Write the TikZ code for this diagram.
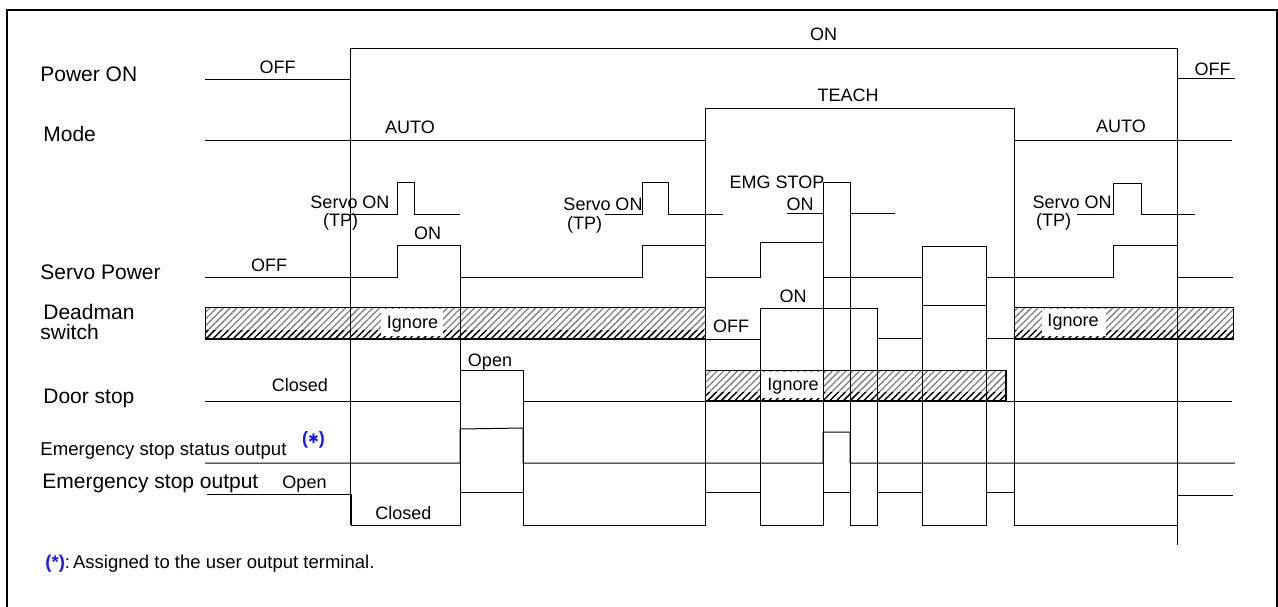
\documentclass[tikz,border=0pt]{standalone}
\usepackage{fontspec}
\setmainfont{Liberation Sans}
\newfontfamily\djv{DejaVu Sans}
\usetikzlibrary{patterns.meta}
\definecolor{noteblue}{RGB}{25,25,235}
\begin{document}
\begin{tikzpicture}[x=0.5pt,y=-0.5pt,
  sig/.style={line width=0.5pt},
  lbl/.style={font=\fontsize{9}{10}\selectfont, inner sep=0pt, anchor=base},
  sname/.style={font=\fontsize{10.5}{12}\selectfont, inner sep=0pt, anchor=base west},
  hatch/.style={pattern={Lines[angle=45,distance=2.4pt,line width=0.65pt]}, pattern color=black!50},
  hatchdark/.style={pattern={Lines[angle=45,distance=2.4pt,line width=0.65pt]}, pattern color=black},
  bandedge/.style={line width=0.5pt},
  bandbottom/.style={line width=0.8pt},
  ]
\useasboundingbox (0,0) rectangle (1278,606);
% frame
\draw[line width=1pt] (7,620) -- (7,10) -- (1276.5,10) -- (1276.5,620);

% ---------- hatched bands ----------
\fill[hatch] (205,307) rectangle (705,339);
\fill[hatchdark] (205,330) rectangle (705,339);
\fill[white] (381,309) rectangle (443,336);
\draw[bandedge] (205,307) rectangle (705,339);
\draw[bandbottom] (205,339) -- (705,339);

\fill[hatch] (1014,307) rectangle (1233,339);
\fill[hatchdark] (1014,330) rectangle (1233,339);
\fill[white] (1042,309) rectangle (1106,336);
\draw[bandedge] (1014,307) rectangle (1233,339);
\draw[bandbottom] (1014,339) -- (1233,339);

\fill[hatch] (705,370) rectangle (1006,401);
\fill[hatchdark] (705,392) rectangle (1006,401);
\fill[white] (760,372) rectangle (823,398);
\draw[bandedge] (705,370) rectangle (1006,401);
\draw[bandbottom] (705,401) -- (1006,401);
\draw[bandbottom] (1006,370) -- (1006,401);

% ---------- waveforms ----------
% Power ON
\draw[sig] (205,79) -- (350,79) -- (350,48) -- (1177,48) -- (1177,78) -- (1235,78);
% Mode
\draw[sig] (205,140) -- (705,140) -- (705,108) -- (1014,108) -- (1014,140) -- (1232,140);
% Servo ON (TP) pulses
\draw[sig] (351,214) -- (397,214) -- (397,182) -- (414,182) -- (414,214) -- (460,214);
\draw[sig] (605,214) -- (642,214) -- (642,182) -- (668,182) -- (668,214) -- (723,214);
\draw[sig] (787,213) -- (823,213) -- (823,182) -- (850,182) -- (850,213) -- (895,213);
\draw[sig] (1077,214) -- (1113,214) -- (1113,183) -- (1141,183) -- (1141,214) -- (1195,214);
% Servo Power
\draw[sig] (205,277) -- (397,277) -- (397,245) -- (460,245) -- (460,277) -- (642,277)
  -- (642,245) -- (705,245) -- (705,277) -- (760,277) -- (760,242) -- (823,242)
  -- (823,277) -- (922,277) -- (922,246) -- (986,246) -- (986,277) -- (1113,277)
  -- (1113,245) -- (1177,245) -- (1177,277) -- (1233,277);
% Deadman switch (TEACH part)
\draw[sig] (705,339) -- (760,339) -- (760,308) -- (877,308) -- (877,338) -- (922,338)
  -- (922,305) -- (986,305) -- (986,338) -- (1014,338);
% Door stop
\draw[sig] (205,401) -- (460,401) -- (460,370) -- (523,370) -- (523,401) -- (705,401);
\draw[sig] (1006,401) -- (1232,401);
% Emergency stop status output
\draw[sig] (205,463) -- (460,463) -- (460,429) -- (523,428) -- (523,463) -- (823,463)
  -- (823,432) -- (850,432) -- (850,463) -- (1235,463);
% Emergency stop output
\draw[sig] (207,494) -- (351,494) -- (351,525) -- (460,525) -- (460,492) -- (523,492)
  -- (523,525) -- (705,525) -- (705,492) -- (760,492) -- (760,525) -- (823,525)
  -- (823,492) -- (850,492) -- (850,525) -- (877,525) -- (877,492) -- (922,492)
  -- (922,525) -- (986,525) -- (986,492) -- (1014,492) -- (1014,525) -- (1177,525)
  -- (1177,495) -- (1233,495);
% long timing verticals
\draw[sig] (350,48) -- (350,525);
\draw[sig] (460,245) -- (460,525);
\draw[sig] (523,370) -- (523,525);
\draw[sig] (705,108) -- (705,525);
\draw[sig] (760,308) -- (760,525);
\draw[sig] (823,182) -- (823,525);
\draw[sig] (850,182) -- (850,525);
\draw[sig] (877,308) -- (877,525);
\draw[sig] (922,246) -- (922,525);
\draw[sig] (986,246) -- (986,525);
\draw[sig] (1014,108) -- (1014,525);
\draw[sig] (1177,48) -- (1177,545);

% ---------- signal names ----------
\node[sname] (nPower) at (40,81.7) {Power ON};
\node[sname] (nMode) at (43,141.7) {Mode};
\node[sname] (nServo) at (40,279) {Servo Power};
\node[sname] (nDead1) at (43,319) {Deadman};
\node[sname] (nDead2) at (40,339.3) {switch};
\node[sname] (nDoor) at (43,403.3) {Door stop};
\node[sname, font=\fontsize{9.3}{10}\selectfont] (nStat) at (40,455) {Emergency stop status output};
\node[sname] (nEout) at (42,488.3) {Emergency stop output};

% ---------- labels ----------
\node[lbl] (lOff1) at (277.5,73.3) {OFF};
\node[lbl] (lOn1) at (823.7,40) {ON};
\node[lbl] (lOff2) at (1212.5,75) {OFF};
\node[lbl] (lAuto1) at (410,133.3) {AUTO};
\node[lbl] (lTeach) at (848,101) {TEACH};
\node[lbl] (lAuto2) at (1121,132.7) {AUTO};
\node[lbl] (lSon1) at (350,208.3) {Servo ON};
\node[lbl] (lTp1) at (340.5,226.7) {(TP)};
\node[lbl] (lSon2) at (603,210.7) {Servo ON};
\node[lbl] (lTp2) at (584.5,229) {(TP)};
\node[lbl] (lEmg) at (777,188.3) {EMG STOP};
\node[lbl] (lEmgOn) at (800,210) {ON};
\node[lbl] (lSon4) at (1072,208.3) {Servo ON};
\node[lbl] (lTp4) at (1053.5,226.7) {(TP)};
\node[lbl] (lSpOn) at (427.5,239.3) {ON};
\node[lbl] (lSpOff) at (269,271.7) {OFF};
\node[lbl] (lIgn1) at (412.5,328) {Ignore};
\node[lbl] (lDmOn) at (793,302.7) {ON};
\node[lbl] (lDmOff) at (731,332.7) {OFF};
\node[lbl] (lIgn2) at (1073,326.7) {Ignore};
\node[lbl] (lOpen1) at (490,366) {Open};
\node[lbl] (lClosed1) at (300,391.7) {Closed};
\node[lbl] (lIgn3) at (793,390.7) {Ignore};
\node[lbl] (lOpen2) at (304.5,488.3) {Open};
\node[lbl] (lClosed2) at (403.5,519) {Closed};
\node[inner sep=0pt, text=noteblue, font=\fontsize{9}{10}\selectfont\bfseries] (lStar) at (313.5,440)
  {(\raisebox{0.4pt}{\djv\fontsize{6.5}{7}\selectfont ✱})};
\node[anchor=base west, inner sep=0pt, font=\fontsize{9.25}{10}\selectfont] (fn) at (45,568.3)
  {\textcolor{noteblue}{\bfseries(*)}:\,Assigned to the user output terminal.};
\end{tikzpicture}
\end{document}
